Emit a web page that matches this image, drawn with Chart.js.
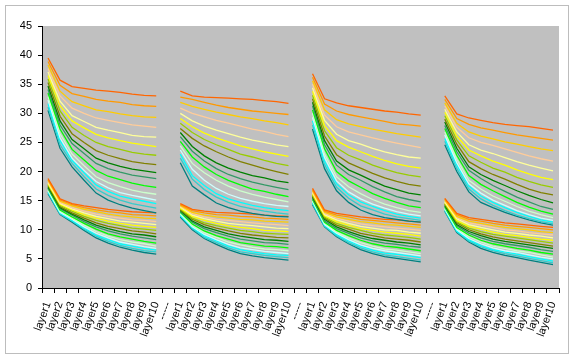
<!DOCTYPE html>
<html><head><meta charset="utf-8">
<script src="https://cdn.jsdelivr.net/npm/chart.js@4.4.1/dist/chart.umd.min.js"></script>
<style>html,body{margin:0;padding:0;background:#fff;}#wrap{width:576px;height:360px;position:relative;}</style>
</head><body><div id="wrap"><canvas id="c" width="576" height="360"></canvas></div>
<script>
const layerLabels = ['layer1','layer2','layer3','layer4','layer5','layer6','layer7','layer8','layer9','layer10'];
const separatorLabel = '-----';
const seriesColors = ['#FF6600','#FF9900','#FFCC00','#FFCC99','#FFFF99','#FFFF00','#99CC00','#808000','#008000','#339966','#00FF00','#CCFFCC','#CCFFFF','#00FFFF','#33CCCC','#008080'];

const g1Upper = [
 [39.5,35.7,34.6,34.3,34.0,33.8,33.6,33.3,33.1,33.0],
 [38.9,34.8,33.4,32.9,32.4,32.1,31.9,31.5,31.3,31.2],
 [38.3,33.8,32.0,31.3,30.6,30.3,29.9,29.6,29.4,29.3],
 [37.7,33.0,30.9,30.0,29.2,28.8,28.4,28.0,27.8,27.6],
 [37.1,32.1,29.6,28.6,27.6,27.1,26.7,26.2,26.0,25.9],
 [36.5,31.3,28.7,27.5,26.4,25.8,25.3,24.9,24.6,24.3],
 [35.9,30.4,27.6,26.2,25.0,24.3,23.8,23.3,23.0,22.8],
 [35.3,29.5,26.5,25.0,23.6,22.8,22.2,21.7,21.4,21.2],
 [34.7,28.7,25.5,23.9,22.3,21.5,20.9,20.4,20.1,19.8],
 [34.1,28.0,24.8,23.1,21.4,20.5,19.9,19.4,19.1,18.8],
 [33.5,27.3,23.8,22.0,20.2,19.2,18.6,18.0,17.6,17.3],
 [32.9,26.5,23.0,21.0,19.1,18.1,17.4,16.8,16.4,16.1],
 [32.3,25.8,22.3,20.2,18.3,17.2,16.4,15.9,15.5,15.1],
 [31.7,25.3,21.9,19.8,17.7,16.6,15.8,15.3,14.9,14.5],
 [31.1,24.6,21.4,19.1,17.0,15.9,15.1,14.5,14.1,13.7],
 [30.5,24.0,20.8,18.5,16.3,15.1,14.3,13.7,13.3,12.9]
];
const g2Upper = [
 [33.8,33.0,32.8,32.7,32.6,32.5,32.4,32.2,32.0,31.7],
 [32.8,32.4,31.9,31.4,31.0,30.7,30.4,30.2,30.0,29.8],
 [31.9,31.2,30.7,30.2,29.8,29.4,29.1,28.7,28.4,28.0],
 [30.9,30.0,29.4,28.8,28.3,27.8,27.3,26.9,26.4,26.0],
 [30.0,28.7,27.8,27.1,26.5,25.9,25.4,25.0,24.6,24.3],
 [29.1,27.7,26.6,25.8,25.1,24.4,23.9,23.4,23.0,22.6],
 [28.3,26.7,25.5,24.6,23.8,23.0,22.5,21.9,21.4,21.0],
 [27.4,25.7,24.4,23.4,22.5,21.7,21.1,20.5,20.0,19.5],
 [26.7,24.3,22.7,21.5,20.6,19.9,19.3,18.9,18.4,18.1],
 [26.0,23.5,21.8,20.5,19.5,18.8,18.2,17.7,17.3,16.9],
 [25.2,22.5,20.8,19.5,18.5,17.7,17.0,16.6,16.1,15.7],
 [24.4,21.4,19.8,18.5,17.5,16.7,16.1,15.6,15.2,14.8],
 [23.7,20.4,18.5,17.1,16.1,15.4,14.9,14.5,14.2,14.0],
 [23.0,19.3,17.6,16.2,15.3,14.7,14.2,13.8,13.5,13.3],
 [22.3,18.7,16.9,15.6,14.7,14.0,13.6,13.2,12.9,12.7],
 [21.5,17.5,16.0,14.6,13.8,13.2,12.8,12.5,12.3,12.2]
];
const g3Upper = [
 [36.8,32.5,31.8,31.3,31.0,30.7,30.4,30.2,29.9,29.7],
 [36.2,31.6,30.4,29.8,29.4,29.0,28.6,28.2,28.0,27.8],
 [35.6,30.6,28.9,28.2,27.7,27.3,26.9,26.5,26.2,25.9],
 [35.0,29.7,27.7,26.8,26.3,25.8,25.3,24.9,24.5,24.1],
 [34.4,28.8,26.4,25.3,24.7,24.0,23.4,22.9,22.5,22.3],
 [33.8,27.9,25.3,24.2,23.4,22.6,21.9,21.3,20.9,20.6],
 [33.1,27.0,24.1,22.8,22.0,21.1,20.4,19.8,19.4,19.1],
 [32.5,26.1,22.9,21.5,20.6,19.7,18.9,18.3,17.8,17.5],
 [31.9,25.3,21.8,20.3,19.4,18.4,17.5,16.9,16.3,16.0],
 [31.3,24.6,21.1,19.5,18.5,17.4,16.5,15.7,15.2,14.8],
 [30.6,23.9,20.0,18.4,17.3,16.2,15.4,14.7,14.1,13.8],
 [30.0,23.0,19.1,17.4,16.2,15.2,14.4,13.8,13.3,13.0],
 [29.3,22.4,18.4,16.5,15.3,14.4,13.7,13.1,12.7,12.4],
 [28.7,21.8,17.9,16.0,14.8,14.0,13.3,12.7,12.3,12.0],
 [28.0,21.2,17.3,15.4,14.1,13.4,12.7,12.2,11.9,11.6],
 [27.3,20.5,16.7,14.7,13.4,12.6,12.1,11.8,11.5,11.3]
];
const g4Upper = [
 [33.0,29.9,29.2,28.8,28.4,28.1,27.9,27.7,27.4,27.1],
 [32.4,29.1,28.1,27.5,27.1,26.7,26.3,26.0,25.7,25.4],
 [31.8,28.3,26.8,26.1,25.6,25.1,24.7,24.3,23.9,23.6],
 [31.3,27.6,25.8,25.0,24.5,23.9,23.3,22.7,22.2,21.8],
 [30.7,26.8,24.6,23.7,23.1,22.4,21.7,21.1,20.6,20.1],
 [30.2,26.1,23.7,22.7,21.8,21.1,20.3,19.6,19.0,18.6],
 [29.6,25.4,22.7,21.6,20.6,19.9,19.0,18.3,17.7,17.3],
 [29.0,24.7,21.7,20.5,19.5,18.7,17.8,17.0,16.4,16.0],
 [28.5,24.0,20.8,19.5,18.5,17.6,16.7,15.9,15.2,14.6],
 [27.9,23.4,20.2,18.8,17.6,16.6,15.6,14.8,14.0,13.5],
 [27.4,22.8,19.3,17.8,16.7,15.7,14.7,13.9,13.2,12.7],
 [26.8,22.1,18.5,17.0,15.8,14.9,14.0,13.2,12.6,12.1],
 [26.3,21.5,17.9,16.3,15.1,14.2,13.3,12.6,12.0,11.6],
 [25.7,21.1,17.5,15.8,14.7,13.8,13.0,12.3,11.7,11.3],
 [25.2,20.5,17.0,15.3,14.2,13.3,12.5,11.9,11.4,11.0],
 [24.6,20.0,16.5,14.7,13.8,13.0,12.3,11.7,11.2,10.8]
];
const g1Lower = [
 [18.8,15.3,14.5,14.1,13.8,13.5,13.3,13.1,13.0,12.9],
 [18.6,15.1,14.3,13.8,13.4,13.1,12.9,12.6,12.5,12.4],
 [18.5,14.9,14.1,13.5,13.1,12.7,12.4,12.2,12.0,11.9],
 [18.3,14.7,13.8,13.2,12.7,12.3,12.0,11.7,11.6,11.4],
 [18.1,14.5,13.6,12.9,12.3,11.9,11.5,11.3,11.1,10.9],
 [17.9,14.4,13.4,12.6,12.0,11.5,11.1,10.8,10.6,10.4],
 [17.8,14.2,13.2,12.3,11.6,11.1,10.7,10.3,10.1,9.9],
 [17.6,14.0,12.9,12.0,11.2,10.6,10.2,9.8,9.6,9.3],
 [17.4,13.8,12.7,11.7,10.8,10.2,9.7,9.3,9.1,8.8],
 [17.2,13.6,12.5,11.4,10.5,9.8,9.3,8.9,8.6,8.3],
 [17.1,13.4,12.2,11.1,10.1,9.3,8.8,8.4,8.0,7.7],
 [16.9,13.2,12.0,10.8,9.7,8.9,8.3,7.9,7.6,7.2],
 [16.7,13.0,11.8,10.5,9.4,8.6,7.9,7.5,7.1,6.8],
 [16.5,12.9,11.6,10.3,9.1,8.3,7.6,7.2,6.8,6.5],
 [16.4,12.7,11.5,10.1,8.9,8.0,7.3,6.8,6.4,6.2],
 [16.2,12.6,11.3,9.9,8.6,7.7,7.0,6.5,6.1,5.8]
];
const g2Lower = [
 [14.5,13.5,13.2,13.0,12.9,12.8,12.7,12.5,12.4,12.3],
 [14.3,13.3,12.9,12.6,12.5,12.3,12.2,12.0,11.9,11.8],
 [14.2,13.0,12.5,12.2,12.0,11.8,11.7,11.5,11.4,11.3],
 [14.0,12.8,12.2,11.8,11.6,11.4,11.2,11.0,10.9,10.7],
 [13.9,12.5,11.9,11.5,11.1,10.9,10.7,10.5,10.3,10.2],
 [13.7,12.3,11.6,11.1,10.7,10.4,10.2,9.9,9.8,9.7],
 [13.6,12.0,11.2,10.7,10.3,9.9,9.7,9.4,9.3,9.2],
 [13.4,11.8,10.9,10.3,9.8,9.4,9.1,8.9,8.7,8.6],
 [13.3,11.5,10.5,9.9,9.3,8.9,8.6,8.3,8.2,8.0],
 [13.1,11.3,10.2,9.5,8.9,8.4,8.1,7.8,7.7,7.5],
 [13.0,11.0,9.8,9.0,8.4,7.8,7.5,7.2,7.1,6.9],
 [12.8,10.7,9.5,8.7,7.9,7.4,7.0,6.7,6.6,6.4],
 [12.7,10.5,9.2,8.3,7.5,6.9,6.6,6.3,6.1,5.9],
 [12.5,10.4,9.0,8.1,7.2,6.6,6.2,5.9,5.7,5.6],
 [12.4,10.2,8.7,7.8,6.9,6.2,5.9,5.6,5.4,5.2],
 [12.2,10.0,8.5,7.5,6.6,5.9,5.5,5.2,5.0,4.8]
];
const g3Lower = [
 [17.1,13.4,12.8,12.5,12.2,12.0,11.8,11.7,11.5,11.3],
 [16.9,13.2,12.5,12.2,11.8,11.6,11.4,11.2,11.0,10.8],
 [16.7,13.0,12.2,11.8,11.4,11.2,10.9,10.8,10.6,10.4],
 [16.5,12.8,12.0,11.5,11.0,10.7,10.5,10.3,10.1,9.9],
 [16.4,12.6,11.7,11.1,10.6,10.3,10.0,9.9,9.6,9.4],
 [16.2,12.4,11.4,10.8,10.2,9.9,9.6,9.4,9.2,8.9],
 [16.0,12.2,11.1,10.4,9.9,9.4,9.1,8.9,8.7,8.4],
 [15.8,12.0,10.8,10.1,9.4,9.0,8.6,8.4,8.2,7.9],
 [15.6,11.8,10.5,9.7,9.0,8.5,8.2,7.9,7.7,7.4],
 [15.4,11.5,10.2,9.4,8.6,8.1,7.7,7.5,7.2,7.0],
 [15.2,11.3,9.9,9.0,8.2,7.6,7.2,7.0,6.7,6.4],
 [15.0,11.1,9.6,8.6,7.8,7.2,6.7,6.5,6.2,5.9],
 [14.9,10.9,9.4,8.3,7.4,6.8,6.4,6.1,5.8,5.5],
 [14.7,10.8,9.2,8.1,7.2,6.5,6.0,5.8,5.5,5.2],
 [14.5,10.6,9.0,7.8,6.9,6.2,5.7,5.4,5.1,4.8],
 [14.3,10.5,8.8,7.6,6.6,5.9,5.4,5.1,4.8,4.5]
];
const g4Lower = [
 [15.4,12.8,12.1,11.8,11.5,11.2,11.0,10.8,10.6,10.4],
 [15.3,12.6,11.8,11.5,11.1,10.8,10.6,10.4,10.2,10.0],
 [15.1,12.3,11.5,11.1,10.7,10.4,10.2,10.0,9.7,9.5],
 [15.0,12.1,11.2,10.8,10.4,10.0,9.8,9.5,9.3,9.1],
 [14.8,11.9,10.9,10.4,10.0,9.6,9.4,9.1,8.9,8.6],
 [14.7,11.6,10.6,10.1,9.6,9.2,9.0,8.7,8.4,8.2],
 [14.5,11.4,10.3,9.7,9.2,8.9,8.6,8.3,8.0,7.7],
 [14.4,11.2,10.0,9.3,8.8,8.4,8.1,7.8,7.5,7.2],
 [14.2,10.9,9.7,9.0,8.4,8.0,7.7,7.4,7.1,6.8],
 [14.1,10.7,9.4,8.6,8.0,7.6,7.3,7.0,6.6,6.3],
 [13.9,10.4,9.1,8.2,7.6,7.2,6.8,6.5,6.1,5.8],
 [13.8,10.2,8.8,7.9,7.2,6.8,6.4,6.1,5.7,5.3],
 [13.6,10.0,8.5,7.6,6.9,6.4,6.1,5.7,5.3,5.0],
 [13.5,9.8,8.3,7.3,6.6,6.2,5.8,5.4,5.0,4.6],
 [13.3,9.7,8.1,7.1,6.4,5.9,5.5,5.1,4.7,4.3],
 [13.2,9.5,7.9,6.8,6.1,5.6,5.2,4.8,4.4,4.0]
];

const upperGroups = [g1Upper, g2Upper, g3Upper, g4Upper];
const lowerGroups = [g1Lower, g2Lower, g3Lower, g4Lower];

const categories = [];
upperGroups.forEach((g, i) => {
  categories.push(...layerLabels);
  if (i < upperGroups.length - 1) categories.push(separatorLabel);
});

function joinSeries(groups, s) {
  const out = [];
  groups.forEach((g, i) => {
    out.push(...g[s]);
    if (i < groups.length - 1) out.push(null);
  });
  return out;
}

const datasets = [];
[upperGroups, lowerGroups].forEach(groups => {
  for (let s = 0; s < seriesColors.length; s++) {
    datasets.push({
      data: joinSeries(groups, s),
      borderColor: seriesColors[s],
      backgroundColor: seriesColors[s],
      borderWidth: 1.3,
      pointRadius: 0,
      fill: false,
      tension: 0,
      spanGaps: false
    });
  }
});

const frame = {
  id: 'frame',
  beforeDraw(chart) {
    const ctx = chart.ctx, a = chart.chartArea;
    ctx.save();
    ctx.fillStyle = '#ffffff';
    ctx.fillRect(0, 0, chart.width, chart.height);
    ctx.strokeStyle = '#BDBDBD';
    ctx.lineWidth = 1;
    ctx.strokeRect(5.5, 5.5, 563, 348);
    ctx.fillStyle = '#C0C0C0';
    ctx.fillRect(a.left, a.top, a.right - a.left, a.bottom - a.top);
    ctx.restore();
  }
};

const font = { family: "'Liberation Sans', Arial, sans-serif", size: 11 };

new Chart(document.getElementById('c'), {
  type: 'line',
  data: { labels: categories, datasets },
  options: {
    responsive: false,
    animation: false,
    devicePixelRatio: 1,
    layout: { padding: { left: 0, right: 17, top: 26, bottom: 0 } },
    plugins: { legend: { display: false }, tooltip: { enabled: false } },
    scales: {
      x: {
        type: 'category',
        offset: true,
        grid: { offset: true, drawOnChartArea: false, drawTicks: true, tickLength: 5, color: '#000' },
        border: { display: true, color: '#000', width: 1 },
        ticks: { autoSkip: false, maxRotation: 70, minRotation: 70, color: '#000', font, padding: 7 },
        afterFit(s) { s.height = 72; }
      },
      y: {
        min: 0, max: 45,
        grid: { drawOnChartArea: false, drawTicks: true, tickLength: 4, color: '#000' },
        border: { display: true, color: '#000', width: 1 },
        ticks: { stepSize: 5, color: '#000', font, padding: 6 },
        afterFit(s) { s.width = 42; }
      }
    }
  },
  plugins: [frame]
});
</script></body></html>
